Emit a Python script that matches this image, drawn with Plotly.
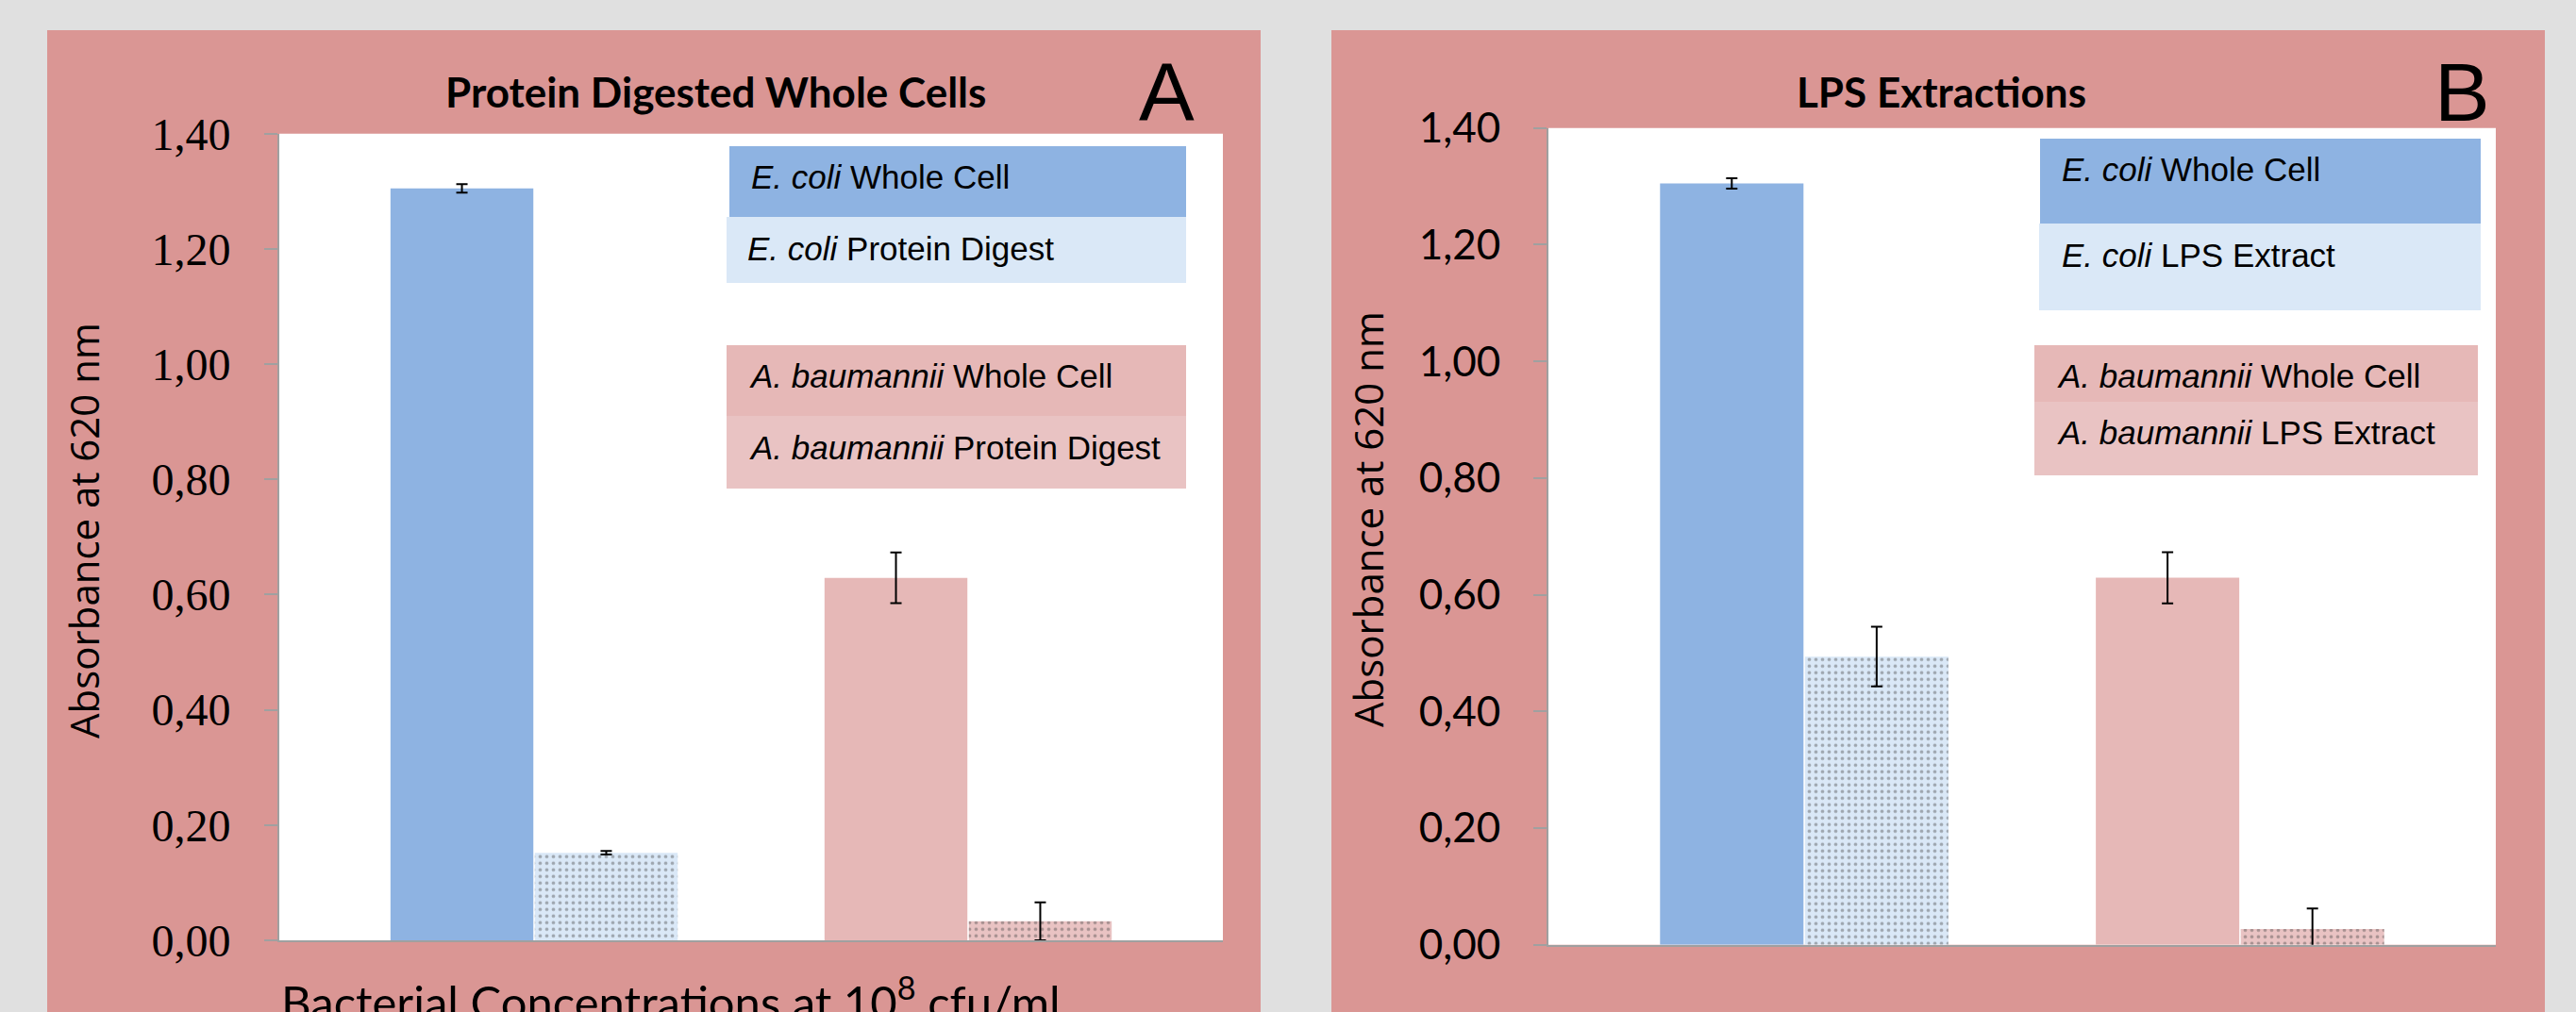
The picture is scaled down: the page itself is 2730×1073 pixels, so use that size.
import plotly.graph_objects as go

# ---------------- data ----------------
categories = ["E. coli", "A. baumannii"]
species_italic = ["E. coli", "A. baumannii"]

panel_a_title = "Protein Digested Whole Cells"
panel_b_title = "LPS Extractions"

a_whole = [1.305, 0.629]
a_whole_err = [0.0075, 0.044]
a_digest = [0.152, 0.033]
a_digest_err = [0.003, 0.033]

b_whole = [1.305, 0.629]
b_whole_err = [0.009, 0.044]
b_lps = [0.494, 0.027]
b_lps_err = [0.051, 0.035]

y_ticks = [0.0, 0.2, 0.4, 0.6, 0.8, 1.0, 1.2, 1.4]
y_title = "Absorbance at 620 nm"
x_title = "Bacterial Concentrations at 10<sup>8</sup> cfu/ml"
a_series = ["Whole Cell", "Protein Digest"]
b_series = ["Whole Cell", "LPS Extract"]

# ---------------- style ----------------
W, H = 2730, 1073
BLUE = "#8EB3E2"
PINK = "#E6B8B7"
LBLUE = "#DAE8F7"
LPINK = "#E9C3C3"
PANEL = "#DA9694"
GREY_BG = "#E0E0E0"
AXIS = "#A0A0A0"


def X(px):
    return px / W


def Y(py):
    return 1 - py / H


fig = go.Figure()

err_style = dict(type="data", color="black", thickness=2, width=6)
texture = dict(shape=".", fgcolor=["#C3D8F0", "#D9A9A9"], fgopacity=0.4, size=7, solidity=0.22)

# Panel A
fig.add_trace(go.Bar(x=categories, y=a_whole, xaxis="x", yaxis="y",
                     marker=dict(color=[BLUE, PINK], line=dict(width=0)),
                     error_y=dict(array=a_whole_err, **err_style), showlegend=False))
fig.add_trace(go.Bar(x=categories, y=a_digest, xaxis="x", yaxis="y",
                     marker=dict(color=[LBLUE, LPINK], line=dict(width=0), pattern=texture),
                     error_y=dict(array=a_digest_err, **err_style), showlegend=False))
# Panel B
fig.add_trace(go.Bar(x=categories, y=b_whole, xaxis="x2", yaxis="y2",
                     marker=dict(color=[BLUE, PINK], line=dict(width=0)),
                     error_y=dict(array=b_whole_err, **err_style), showlegend=False))
fig.add_trace(go.Bar(x=categories, y=b_lps, xaxis="x2", yaxis="y2",
                     marker=dict(color=[LBLUE, LPINK], line=dict(width=0), pattern=texture),
                     error_y=dict(array=b_lps_err, **err_style), showlegend=False))

shapes = []
# pink panels and white plot areas
for x0, x1 in [(50, 1336), (1411, 2697)]:
    shapes.append(dict(type="rect", xref="paper", yref="paper", x0=X(x0), x1=X(x1),
                       y0=0, y1=Y(32), fillcolor=PANEL, line=dict(width=0), layer="below"))
for (x0, x1, t, b) in [(296, 1296, 141.7, 997), (1641, 2645, 135.7, 1001.7)]:
    shapes.append(dict(type="rect", xref="paper", yref="paper", x0=X(x0), x1=X(x1),
                       y0=Y(b), y1=Y(t), fillcolor="white", line=dict(width=0), layer="below"))

annotations = []

# legend boxes
legend_specs = [
    # (x0, x1, y0, y1, color, text, text_x)
    (773, 1257, 155, 230, BLUE, f"<i>{species_italic[0]}</i> {a_series[0]}", 794),
    (770, 1257, 230, 300, LBLUE, f"<i>{species_italic[0]}</i> {a_series[1]}", 790),
    (770, 1257, 366, 441, PINK, f"<i>{species_italic[1]}</i> {a_series[0]}", 792),
    (770, 1257, 441, 518, LPINK, f"<i>{species_italic[1]}</i> {a_series[1]}", 792),
    (2162, 2629, 147, 237, BLUE, f"<i>{species_italic[0]}</i> {b_series[0]}", 2183),
    (2161, 2629, 237, 329, LBLUE, f"<i>{species_italic[0]}</i> {b_series[1]}", 2183),
    (2156, 2626, 366, 426, PINK, f"<i>{species_italic[1]}</i> {b_series[0]}", 2178),
    (2156, 2626, 426, 504, LPINK, f"<i>{species_italic[1]}</i> {b_series[1]}", 2178),
]
text_y = [187, 263, 399, 474, 179, 270, 399, 458]
for (x0, x1, y0, y1, col, txt, tx), ty in zip(legend_specs, text_y):
    shapes.append(dict(type="rect", xref="paper", yref="paper", x0=X(x0), x1=X(x1),
                       y0=Y(y1), y1=Y(y0), fillcolor=col, line=dict(width=0), layer="above"))
    annotations.append(dict(xref="paper", yref="paper", x=X(tx), y=Y(ty), text=txt,
                            showarrow=False, xanchor="left", yanchor="middle",
                            font=dict(family="Liberation Sans", size=35, color="black")))

# titles
annotations.append(dict(xref="paper", yref="paper", x=X(758), y=Y(97), text=f"<b>{panel_a_title}</b>",
                        showarrow=False, xanchor="center", yanchor="middle",
                        font=dict(family="Lato", size=44, color="black")))
annotations.append(dict(xref="paper", yref="paper", x=X(2057), y=Y(97), text=f"<b>{panel_b_title}</b>",
                        showarrow=False, xanchor="center", yanchor="middle",
                        font=dict(family="Lato", size=44, color="black")))
annotations.append(dict(xref="paper", yref="paper", x=X(1236), y=Y(98), text="A",
                        showarrow=False, xanchor="center", yanchor="middle",
                        font=dict(family="Liberation Sans", size=88, color="black")))
annotations.append(dict(xref="paper", yref="paper", x=X(2609), y=Y(98), text="B",
                        showarrow=False, xanchor="center", yanchor="middle",
                        font=dict(family="Liberation Sans", size=88, color="black")))
# y titles
annotations.append(dict(xref="paper", yref="paper", x=X(88), y=Y(563), text=y_title, textangle=-90,
                        showarrow=False, xanchor="center", yanchor="middle",
                        font=dict(family="Open Sans", size=42, color="black")))
annotations.append(dict(xref="paper", yref="paper", x=X(1449), y=Y(551), text=y_title, textangle=-90,
                        showarrow=False, xanchor="center", yanchor="middle",
                        font=dict(family="Open Sans", size=42, color="black")))
# x title (panel A) - partly cut by the bottom edge as in the reference
annotations.append(dict(xref="paper", yref="paper", x=X(711), y=Y(1024), text=x_title,
                        showarrow=False, xanchor="center", yanchor="top",
                        font=dict(family="Lato", size=49, color="black")))

yaxis_common = dict(range=[0, 1.4], tickvals=y_ticks, tickformat=".2f", showgrid=False, zeroline=False,
                    showline=True, linecolor=AXIS, linewidth=2, ticks="outside", ticklen=14,
                    tickcolor=AXIS, tickwidth=2, ticklabelstandoff=26, automargin=False)
xaxis_common = dict(type="category", range=[-0.587, 1.587], showticklabels=False, showgrid=False,
                    zeroline=False, showline=True, linecolor=AXIS, linewidth=2, ticks="",
                    automargin=False)

fig.update_layout(
    width=W, height=H, autosize=False,
    margin=dict(l=0, r=0, t=0, b=0, pad=0),
    paper_bgcolor=GREY_BG, plot_bgcolor="rgba(0,0,0,0)",
    separators=",.",
    barmode="group", bargap=0.335, bargroupgap=0.01,
    showlegend=False,
    xaxis=dict(domain=[X(296), X(1296)], anchor="y", **xaxis_common),
    yaxis=dict(domain=[Y(997), Y(141.7)], anchor="x",
               tickfont=dict(family="Liberation Serif", size=48, color="black"), **yaxis_common),
    xaxis2=dict(domain=[X(1641), X(2645)], anchor="y2", **xaxis_common),
    yaxis2=dict(domain=[Y(1001.7), Y(135.7)], anchor="x2",
                tickfont=dict(family="Lato", size=44, color="black"), **yaxis_common),
    shapes=shapes,
    annotations=annotations,
)

fig.write_html("out.html", config={"displayModeBar": False},
               post_script="document.body.style.margin='0';document.body.style.overflow='hidden';")
